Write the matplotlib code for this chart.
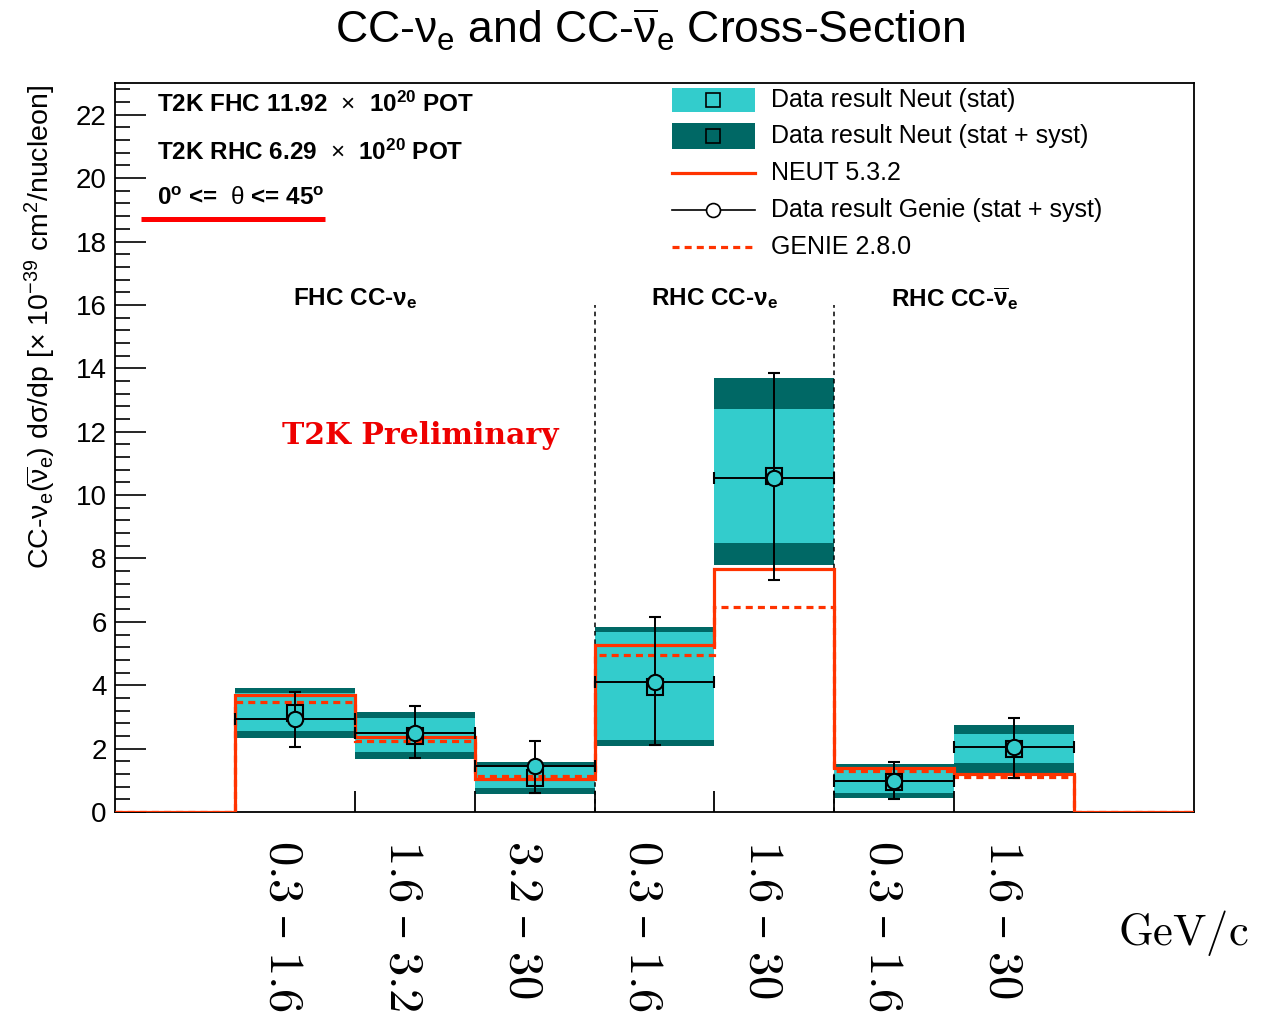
import matplotlib
matplotlib.use("Agg")
import matplotlib.pyplot as plt
import matplotlib.transforms as mtransforms
from matplotlib.patches import Rectangle
from matplotlib.ticker import MultipleLocator
import numpy as np

plt.rcParams.update({
    "font.family": ["Liberation Sans", "DejaVu Sans"],
    "mathtext.fontset": "custom",
    "mathtext.rm": "Liberation Sans",
    "mathtext.it": "Liberation Sans:italic",
    "mathtext.bf": "Liberation Sans:bold",
    "mathtext.sf": "Liberation Sans",
    "mathtext.default": "rm",
})

# Momentum bins (GeV/c) for FHC nu_e, RHC nu_e and RHC anti-nu_e samples
bin_lo = ["0.3", "1.6", "3.2", "0.3", "1.6", "0.3", "1.6"]
bin_hi = ["1.6", "3.2", "30", "1.6", "30", "1.6", "30"]

# Data result unfolded with NEUT (central value, stat band, stat+syst band)
neut_val = np.array([3.12, 2.40, 1.08, 3.95, 10.60, 0.96, 2.00])
stat_lo = np.array([2.56, 1.89, 0.76, 2.27, 8.49, 0.60, 1.55])
stat_hi = np.array([3.75, 2.96, 1.42, 5.68, 12.71, 1.32, 2.46])
syst_lo = np.array([2.33, 1.67, 0.57, 2.08, 7.79, 0.44, 1.23])
syst_hi = np.array([3.91, 3.15, 1.58, 5.84, 13.69, 1.51, 2.74])

# Data result unfolded with GENIE (stat + syst)
genie_val = np.array([2.93, 2.49, 1.45, 4.10, 10.54, 0.98, 2.05])
genie_lo = np.array([2.05, 1.70, 0.60, 2.11, 7.32, 0.41, 1.07])
genie_hi = np.array([3.78, 3.34, 2.24, 6.15, 13.85, 1.58, 2.97])

# Generator predictions
neut_mc = np.array([3.69, 2.37, 1.05, 5.27, 7.67, 1.39, 1.20])
genie_mc = np.array([3.47, 2.24, 1.15, 4.95, 6.47, 1.29, 1.10])

LIGHT = "#33cccc"
DARK = "#006865"
RED = "#ff3300"

n = len(neut_val)
edges = np.arange(n + 3)          # one empty bin on each side
centers = np.arange(1, n + 1) + 0.5

fig = plt.figure(figsize=(12.63, 10.24), dpi=100)
ax = fig.add_axes([0.0911, 0.2070, 0.8543, 0.7119])
ax.set_xlim(edges[0], edges[-1])
ax.set_ylim(0, 23)

# stat+syst and stat bands
ax.bar(centers, syst_hi - syst_lo, bottom=syst_lo, width=1.0, color=DARK,
       linewidth=0, zorder=1)
ax.bar(centers, stat_hi - stat_lo, bottom=stat_lo, width=1.0, color=LIGHT,
       linewidth=0, zorder=1.5)

# sample separators and bin edge marks
ax.vlines([4, 6], 0, 16, colors="k", linestyles=(0, (3, 2.5)), lw=1.1, zorder=2)
ax.vlines(edges[2:n + 1], 0, 0.65, colors="k", lw=1.3, zorder=2)

# predictions
pad = np.concatenate([[0], neut_mc, [0]])
ax.stairs(pad, edges, baseline=None, color=RED, lw=2.3, zorder=3)
padg = np.concatenate([[0], genie_mc, [0]])
ax.stairs(padg, edges, baseline=None, color=RED, lw=2.3,
          linestyle=(0, (2.2, 1.6)), zorder=3.1)

# data points
ax.plot(centers, neut_val, "s", mfc="none", mec="k", ms=12, mew=1.5, zorder=4)
ax.errorbar(centers, genie_val,
            yerr=[genie_val - genie_lo, genie_hi - genie_val],
            xerr=0.5, fmt="o", mfc=LIGHT, mec="k", ms=11, mew=1.5,
            ecolor="k", elinewidth=1.4, capsize=4, capthick=1.4, zorder=5)

# axes styling
ax.set_xticks([])
ax.yaxis.set_major_locator(MultipleLocator(2))
ax.yaxis.set_minor_locator(MultipleLocator(0.4))
ax.tick_params(axis="y", which="major", direction="in", length=22, width=1.2,
               labelsize=20, pad=6)
ax.tick_params(axis="y", which="minor", direction="in", length=11, width=1.2)
for s in ax.spines.values():
    s.set_linewidth(1.3)

ax.text(-0.0695, 0.997,
        r"CC-$\mathrm{ν}_\mathrm{e}$($\overline{\mathrm{ν}}_\mathrm{e}$) d$\mathrm{σ}$/dp [$\times$ 10$^{-39}$ cm$^2$/nucleon]",
        transform=ax.transAxes, rotation=90, ha="center", va="top", fontsize=20.5)

fig.text(0.515, 0.971,
         r"CC-$\mathrm{ν}_\mathrm{e}$ and CC-$\overline{\mathrm{ν}}_\mathrm{e}$ Cross-Section",
         ha="center", va="center", fontsize=32)

# bin labels
trans = mtransforms.blended_transform_factory(ax.transData, ax.transAxes)
for c, lo, hi in zip(centers, bin_lo, bin_hi):
    ax.text(c - 0.09, -0.038, f"${lo}\\;$–$\\;{hi}$", transform=trans,
            rotation=270, ha="center", va="top", fontsize=35,
            family="DejaVu Serif", math_fontfamily="cm")
fig.text(0.885, 0.0889, r"$\mathrm{GeV/c}$", ha="left", va="center",
         fontsize=32, math_fontfamily="cm")

# exposure and angle annotations
ax.text(0.0389, 0.971, r"T2K FHC 11.92 $\,\times\,$ 10$^{\mathbf{20}}$ POT",
        transform=ax.transAxes, ha="left", va="center", fontsize=17.5,
        fontweight="bold")
ax.text(0.0389, 0.905, r"T2K RHC 6.29 $\,\times\,$ 10$^{\mathbf{20}}$ POT",
        transform=ax.transAxes, ha="left", va="center", fontsize=17.5,
        fontweight="bold")
ax.text(0.0389, 0.841, r"0$^{\mathbf{o}}$ <=  $\mathrm{θ}$ <= 45$^{\mathbf{o}}$",
        transform=ax.transAxes, ha="left", va="center", fontsize=17.5,
        fontweight="bold")
ax.plot([0.024, 0.1946], [0.8134, 0.8134], color="#ff0000", lw=3.6,
        transform=ax.transAxes, clip_on=False, solid_capstyle="butt")

# sample names
ax.text(2.0, 16.2, r"FHC CC-ν$_\mathbf{e}$", ha="center", va="center",
        fontsize=17.5, fontweight="bold")
ax.text(5.0, 16.2, r"RHC CC-ν$_\mathbf{e}$", ha="center", va="center",
        fontsize=17.5, fontweight="bold")
ax.text(7.0, 16.2, r"RHC CC-$\overline{\mathbf{ν}}_\mathbf{e}$", ha="center",
        va="center", fontsize=17.5, fontweight="bold")

ax.text(2.55, 11.88, "T2K Preliminary", ha="center", va="center", fontsize=21.5,
        fontweight="bold", family="DejaVu Serif", color="#ee0000")

# legend
rows = [(812 - y) / 729 for y in (100, 136, 173, 210, 247)]
x0, x1, xm, xt = 0.516, 0.593, 0.5545, 0.608
ax.add_patch(Rectangle((x0, rows[0] - 0.0165), x1 - x0, 0.033,
                       transform=ax.transAxes, color=LIGHT, lw=0))
ax.add_patch(Rectangle((x0, rows[1] - 0.018), x1 - x0, 0.036,
                       transform=ax.transAxes, color=DARK, lw=0))
for r in rows[:2]:
    ax.plot([xm], [r], "s", mfc="none", mec="k", ms=10, mew=1.2,
            transform=ax.transAxes)
ax.plot([x0, x1], [rows[2]] * 2, color=RED, lw=2.3, transform=ax.transAxes)
ax.plot([x0, x1], [rows[3]] * 2, color="k", lw=1.2, transform=ax.transAxes)
ax.plot([xm], [rows[3]], "o", mfc="white", mec="k", ms=10, mew=1.2,
        transform=ax.transAxes)
ax.plot([x0, x1], [rows[4]] * 2, color=RED, lw=2.3,
        linestyle=(0, (2.2, 1.6)), transform=ax.transAxes)
labels = ["Data result Neut (stat)", "Data result Neut (stat + syst)",
          "NEUT 5.3.2", "Data result Genie (stat + syst)", "GENIE 2.8.0"]
for r, t in zip(rows, labels):
    ax.text(xt, r, t, transform=ax.transAxes, ha="left", va="center",
            fontsize=18)

fig.savefig("out.png", dpi=100)
